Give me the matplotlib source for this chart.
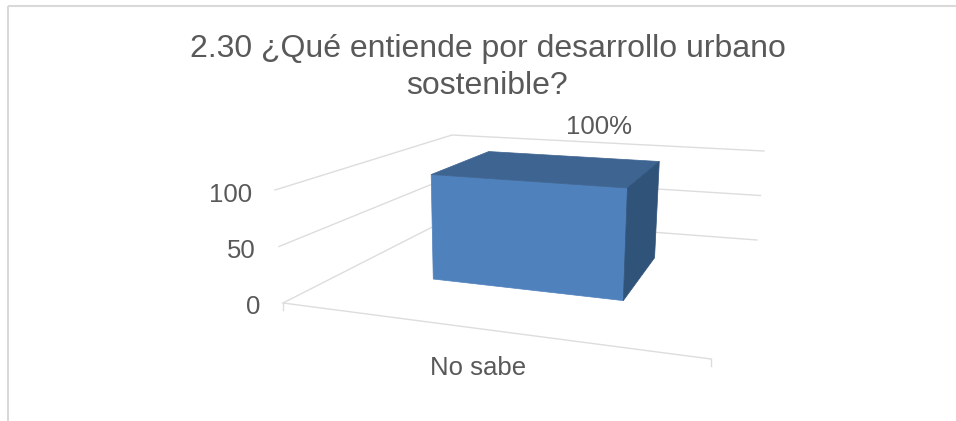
import numpy as np
import matplotlib
matplotlib.use("Agg")
import matplotlib.pyplot as plt
from matplotlib.patches import Polygon

plt.rcParams['font.family'] = ['Liberation Sans', 'DejaVu Sans']

# Data
title = "2.30 ¿Qué entiende por desarrollo urbano\nsostenible?"
categories = ["No sabe"]
values = [100]
value_labels = ["100%"]
value_ticks = [0, 50, 100]

# Layout: projected corners of the 3D plot box (pixels)
FLOOR = {'fl': (283, 303), 'fr': (711, 359), 'bl': (452, 217), 'br': (757, 240)}
ROOF = {'fl': (275, 190), 'fr': (719, 224), 'bl': (452, 135), 'br': (764, 151)}
V_MAX = 100
BAR_U = (0.222, 0.722)
BAR_D = (0.39, 0.78)

TEXT = '#595959'
GRID = '#DDDDDD'
FRONT = '#4F81BD'
TOP = '#3E6491'
SIDE = '#30537A'


def project(u, d, v):
    """Map (category fraction, depth fraction, value) to pixel position."""
    def plane(c):
        front = (1 - u) * np.array(c['fl'], float) + u * np.array(c['fr'], float)
        back = (1 - u) * np.array(c['bl'], float) + u * np.array(c['br'], float)
        return (1 - d) * front + d * back
    t = v / V_MAX
    return tuple((1 - t) * plane(FLOOR) + t * plane(ROOF))


fig = plt.figure(figsize=(9.56, 4.21), dpi=100, facecolor='white')
ax = fig.add_axes([0, 0, 1, 1])
ax.set_xlim(0, 956)
ax.set_ylim(421, 0)
ax.axis('off')

# Chart frame (only top and left visible in the crop)
ax.plot([8, 8], [421, 6], color='#D9D9D9', lw=1.5, solid_capstyle='butt')
ax.plot([8, 956], [6, 6], color='#D9D9D9', lw=1.5, solid_capstyle='butt')

# Gridlines on the side and back walls
for v in value_ticks:
    pts = [project(0, 0, v), project(0, 1, v), project(1, 1, v)]
    ax.plot(*zip(*pts), color=GRID, lw=1.0, zorder=1, solid_joinstyle='miter')
    x, y = project(0, 0, v)
    ax.text(x - 23, y + 4.5, str(v), ha='right', va='center', fontsize=18.5, color=TEXT)

# Floor front edge with its end ticks
ax.plot(*zip(project(0, 0, 0), project(1, 0, 0)), color=GRID, lw=1.0, zorder=1)
for u in (0, 1):
    x, y = project(u, 0, 0)
    ax.plot([x, x], [y, y + 7], color=GRID, lw=1.0, zorder=1)

# Bar
for cat, val, lab in zip(categories, values, value_labels):
    u0, u1 = BAR_U
    d0, d1 = BAR_D
    faces = [
        ([(u0, d0, 0), (u1, d0, 0), (u1, d0, val), (u0, d0, val)], FRONT),
        ([(u0, d0, val), (u1, d0, val), (u1, d1, val), (u0, d1, val)], TOP),
        ([(u1, d0, 0), (u1, d1, 0), (u1, d1, val), (u1, d0, val)], SIDE),
    ]
    for corners, col in faces:
        ax.add_patch(Polygon([project(*c) for c in corners], closed=True,
                             facecolor=col, edgecolor=col, lw=0.5, zorder=3))
    ax.text(599, 127, lab, ha='center', va='center', fontsize=18.5, color=TEXT, zorder=4)
    ax.text(478, 368, cat, ha='center', va='center', fontsize=18.5, color=TEXT)

ax.text(487.5, 67.5, title, ha='center', va='center', fontsize=23, color=TEXT,
        linespacing=1.33)

fig.savefig('out.png', dpi=100)
